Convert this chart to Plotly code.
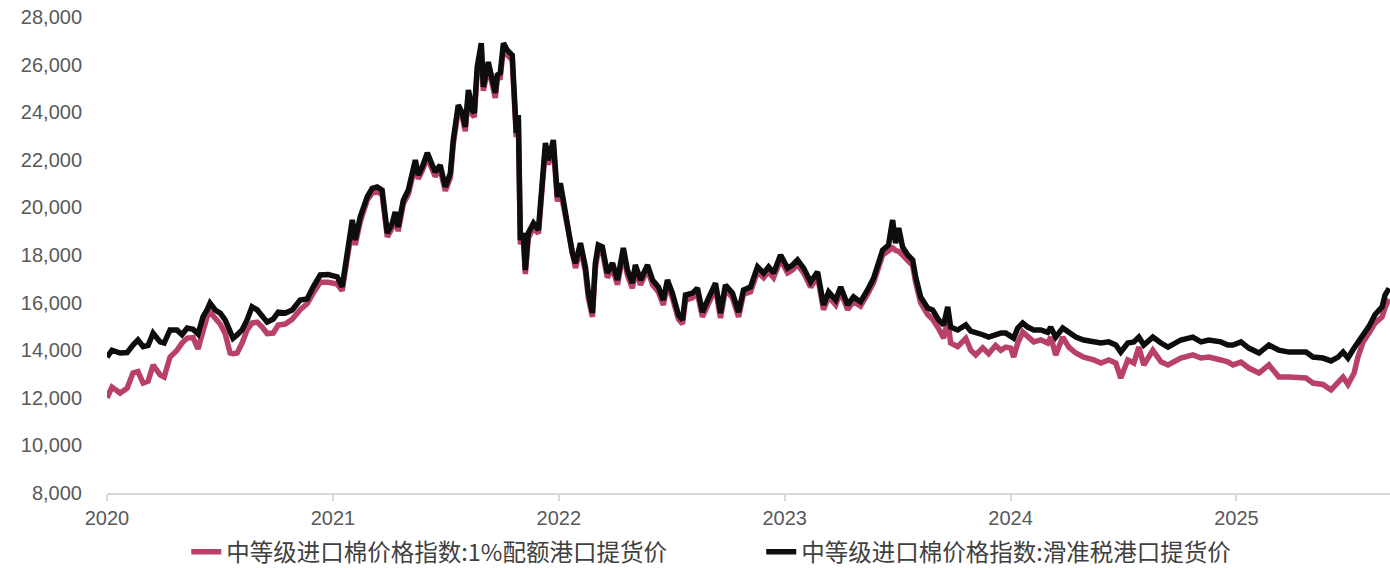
import plotly.graph_objects as go

# time position in decimal years
years = [
    2020.000, 2020.022, 2020.058, 2020.089, 2020.115, 2020.137, 2020.160, 2020.182, 2020.204, 2020.235,
    2020.253, 2020.279, 2020.310, 2020.332, 2020.355, 2020.381, 2020.403, 2020.425, 2020.443, 2020.456,
    2020.479, 2020.501, 2020.523, 2020.545, 2020.558, 2020.576, 2020.598, 2020.620, 2020.642, 2020.665,
    2020.687, 2020.709, 2020.736, 2020.758, 2020.789, 2020.820, 2020.855, 2020.886, 2020.913, 2020.944,
    2020.979, 2021.019, 2021.041, 2021.063, 2021.086, 2021.099, 2021.121, 2021.152, 2021.174, 2021.196,
    2021.218, 2021.241, 2021.263, 2021.276, 2021.289, 2021.312, 2021.334, 2021.365, 2021.378, 2021.396,
    2021.418, 2021.440, 2021.453, 2021.475, 2021.498, 2021.520, 2021.533, 2021.555, 2021.573, 2021.586,
    2021.600, 2021.617, 2021.626, 2021.639, 2021.657, 2021.666, 2021.688, 2021.706, 2021.719, 2021.728,
    2021.741, 2021.755, 2021.772, 2021.794, 2021.803, 2021.812, 2021.821, 2021.830, 2021.843, 2021.852,
    2021.865, 2021.888, 2021.910, 2021.927, 2021.941, 2021.954, 2021.976, 2021.994, 2022.007, 2022.020,
    2022.043, 2022.060, 2022.074, 2022.096, 2022.118, 2022.131, 2022.149, 2022.162, 2022.175, 2022.193,
    2022.215, 2022.238, 2022.260, 2022.286, 2022.304, 2022.326, 2022.339, 2022.362, 2022.393, 2022.415,
    2022.441, 2022.463, 2022.481, 2022.503, 2022.530, 2022.548, 2022.561, 2022.592, 2022.614, 2022.636,
    2022.663, 2022.694, 2022.716, 2022.738, 2022.769, 2022.796, 2022.818, 2022.849, 2022.880, 2022.907,
    2022.929, 2022.951, 2022.982, 2023.013, 2023.035, 2023.057, 2023.084, 2023.115, 2023.146, 2023.159,
    2023.172, 2023.195, 2023.226, 2023.248, 2023.279, 2023.305, 2023.336, 2023.367, 2023.394, 2023.434,
    2023.460, 2023.478, 2023.491, 2023.505, 2023.522, 2023.545, 2023.567, 2023.580, 2023.602, 2023.633,
    2023.655, 2023.682, 2023.704, 2023.722, 2023.735, 2023.766, 2023.802, 2023.824, 2023.846, 2023.877,
    2023.903, 2023.934, 2023.957, 2023.979, 2024.001, 2024.014, 2024.032, 2024.054, 2024.076, 2024.103,
    2024.134, 2024.165, 2024.178, 2024.200, 2024.231, 2024.258, 2024.289, 2024.324, 2024.369, 2024.400,
    2024.435, 2024.466, 2024.488, 2024.519, 2024.546, 2024.568, 2024.590, 2024.630, 2024.666, 2024.697,
    2024.754, 2024.807, 2024.843, 2024.878, 2024.931, 2024.962, 2024.985, 2025.020, 2025.055, 2025.100,
    2025.144, 2025.188, 2025.233, 2025.273, 2025.308, 2025.339, 2025.383, 2025.419, 2025.450, 2025.472,
    2025.494, 2025.521, 2025.538, 2025.561, 2025.587, 2025.614, 2025.645, 2025.658, 2025.676,
]

# 中等级进口棉价格指数:滑准税港口提货价 (black)
sliding_tax = [
    13710, 14000, 13880, 13900, 14220, 14430, 14150, 14200, 14720, 14350,
    14300, 14850, 14850, 14650, 14930, 14880, 14680, 15400, 15700, 15980,
    15690, 15560, 15270, 14720, 14500, 14640, 14850, 15270, 15820, 15690,
    15400, 15180, 15310, 15600, 15560, 15690, 16110, 16150, 16660, 17160,
    17180, 17080, 16660, 18210, 19470, 18630, 19600, 20440, 20800, 20860,
    20730, 18920, 19340, 19810, 19180, 20310, 20730, 21990, 21360, 21700,
    22290, 21780, 21490, 21780, 20860, 21440, 22830, 24300, 23970, 23380,
    24930, 24090, 23970, 25900, 26900, 25060, 26110, 25350, 24810, 25560,
    25650, 26900, 26610, 26400, 24220, 23130, 23880, 18630, 18920, 17370,
    18920, 19340, 19050, 20860, 22710, 21990, 22830, 20440, 21020, 20310,
    19050, 18080, 17660, 18500, 17500, 16400, 15560, 17660, 18420, 18340,
    17240, 17660, 16950, 18290, 17370, 16820, 17580, 16950, 17580, 16950,
    16660, 16110, 16950, 16400, 15480, 15270, 16320, 16400, 16610, 15600,
    16190, 16820, 15560, 16740, 16400, 15600, 16530, 16660, 17500, 17240,
    17500, 17240, 18000, 17450, 17580, 17790, 17450, 16870, 17290, 16450,
    15900, 16450, 16110, 16660, 15900, 16240, 16030, 16530, 17030, 18210,
    18420, 19470, 18500, 19130, 18340, 18000, 17790, 17080, 16240, 15770,
    15690, 15270, 15060, 15820, 14970, 14850, 15060, 14800, 14760, 14650,
    14550, 14650, 14720, 14720, 14600, 14510, 14930, 15140, 14970, 14850,
    14850, 14750, 14970, 14550, 14930, 14720, 14550, 14430, 14350, 14300,
    14350, 14220, 13920, 14300, 14350, 14550, 14220, 14550, 14300, 14130,
    14430, 14550, 14350, 14430, 14350, 14220, 14220, 14350, 14090, 13880,
    14220, 14000, 13920, 13920, 13920, 13710, 13670, 13550, 13710, 13920,
    13670, 14090, 14300, 14600, 15000, 15500, 15820, 16320, 16600,
]

# 中等级进口棉价格指数:1%配额港口提货价 (crimson)
quota_1pct = [
    12000, 12450, 12200, 12400, 13040, 13100, 12620, 12700, 13380, 12960,
    12870, 13710, 14000, 14300, 14510, 14530, 14050, 14900, 15400, 15600,
    15380, 15100, 14700, 13880, 13850, 13880, 14300, 14850, 15140, 15180,
    14970, 14700, 14720, 15060, 15100, 15300, 15700, 15950, 16400, 16850,
    16850, 16780, 16500, 18000, 19200, 18420, 19390, 20300, 20600, 20650,
    20550, 18760, 19150, 19600, 19000, 20150, 20550, 21800, 21200, 21550,
    22100, 21600, 21300, 21600, 20700, 21250, 22650, 24100, 23800, 23200,
    24750, 23900, 23800, 25700, 26700, 24900, 25900, 25150, 24600, 25400,
    25450, 26700, 26400, 26200, 24000, 22950, 23700, 18450, 18700, 17200,
    18700, 19150, 18900, 20650, 22500, 21800, 22600, 20250, 20800, 20100,
    18850, 17900, 17450, 18300, 17300, 16200, 15400, 17450, 18200, 18150,
    17050, 17450, 16750, 18100, 17150, 16600, 17400, 16750, 17400, 16750,
    16450, 15900, 16750, 16200, 15300, 15100, 16100, 16200, 16400, 15400,
    16000, 16600, 15350, 16550, 16200, 15400, 16350, 16450, 17300, 17050,
    17300, 17050, 17800, 17250, 17380, 17600, 17250, 16650, 17100, 16250,
    15700, 16250, 15900, 16450, 15700, 16050, 15850, 16350, 16850, 18000,
    18200, 18300, 18200, 18150, 18000, 17800, 17550, 16850, 16000, 15500,
    15300, 14900, 14500, 15300, 14300, 14150, 14500, 14000, 13800, 14100,
    13850, 14200, 14000, 14130, 14090, 13710, 14300, 14760, 14550, 14350,
    14430, 14300, 14550, 13800, 14550, 14130, 13880, 13710, 13590, 13460,
    13590, 13460, 12830, 13590, 13460, 14130, 13380, 14000, 13510, 13380,
    13670, 13800, 13670, 13710, 13590, 13510, 13380, 13500, 13250, 13040,
    13380, 12870, 12870, 12870, 12830, 12620, 12560, 12330, 12620, 12870,
    12560, 13040, 13710, 14350, 14720, 15140, 15400, 15800, 16150,
]

year_ticks = [2020, 2021, 2022, 2023, 2024, 2025]
year_labels = ["2020", "2021", "2022", "2023", "2024", "2025"]

NAME_QUOTA = "中等级进口棉价格指数:1%配额港口提货价"
NAME_SLIDING = "中等级进口棉价格指数:滑准税港口提货价"
CRIMSON = "#B8406B"
BLACK = "#0D0D0D"
TICK_GREY = "#595959"
AXIS_GREY = "#D9D9D9"

fig = go.Figure()
fig.add_trace(go.Scatter(
    x=years, y=quota_1pct, name=NAME_QUOTA, mode="lines",
    line=dict(color=CRIMSON, width=5.5),
))
fig.add_trace(go.Scatter(
    x=years, y=sliding_tax, name=NAME_SLIDING, mode="lines",
    line=dict(color=BLACK, width=5.5),
))

fig.update_layout(
    width=1390, height=568,
    paper_bgcolor="white", plot_bgcolor="white",
    margin=dict(l=107, r=0, t=17, b=75),
    font=dict(family="Liberation Sans", color=TICK_GREY),
    showlegend=True,
    legend=dict(
        orientation="h", xref="container", yref="container",
        x=0.134, xanchor="left", y=0.028, yanchor="middle",
        entrywidth=530, entrywidthmode="pixels",
        font=dict(family="Noto Sans CJK SC", size=23.5, color="#404040"),
        tracegroupgap=0, bgcolor="rgba(0,0,0,0)",
    ),
    xaxis=dict(
        range=[2020, 2025.68], tickvals=year_ticks, ticktext=year_labels,
        showgrid=False, zeroline=False,
        showline=True, linecolor=AXIS_GREY, linewidth=2,
        ticks="outside", ticklen=6, tickwidth=1.5, tickcolor=AXIS_GREY,
        tickfont=dict(family="Liberation Sans", size=20, color=TICK_GREY),
    ),
    yaxis=dict(
        range=[8000, 28000], dtick=2000, tickformat=",",
        showgrid=False, zeroline=False, showline=False, ticks="",
        ticklabelstandoff=24, automargin=False,
        tickfont=dict(family="Liberation Sans", size=20, color=TICK_GREY),
    ),
)

# the page's default body margin would shift the figure by 8px
fig.write_html(
    "out.html",
    config={"displayModeBar": False},
    post_script="document.body.style.margin='0';",
)
